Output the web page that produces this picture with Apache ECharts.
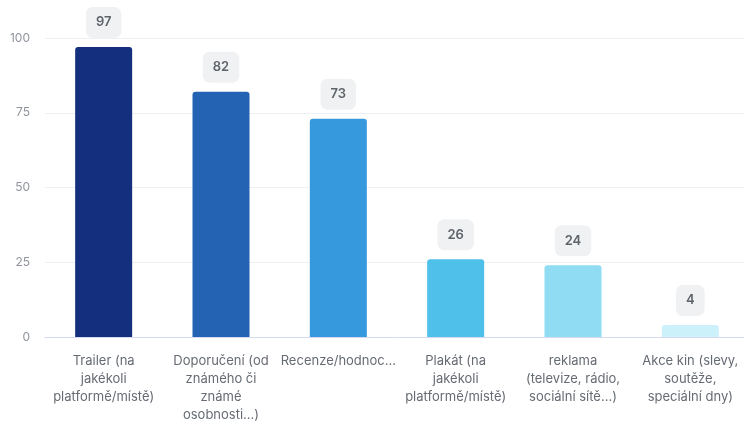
<!DOCTYPE html>
<html>
<head>
<meta charset="utf-8">
<script src="https://cdn.jsdelivr.net/npm/echarts@6/dist/echarts.min.js"></script>
<style>
html,body{margin:0;padding:0;background:#fff;}
#chart{width:744px;height:421px;}
</style>
</head>
<body>
<div id="chart"></div>
<script>
var categories = [
  "Trailer (na\njakékoli\nplatformě/místě)",
  "Doporučení (od\nznámého či\nznámé\nosobnosti...)",
  "Recenze/hodnoc...",
  "Plakát (na\njakékoli\nplatformě/místě)",
  "reklama\n(televize, rádio,\nsociální sítě...)",
  "Akce kin (slevy,\nsoutěže,\nspeciální dny)"
];
var values = [97, 82, 73, 26, 24, 4];
var barColors = ["#132f7d", "#2463b4", "#3699dd", "#4ec0ea", "#90dcf3", "#cdf1fa"];
var yTicks = [0, 25, 50, 75, 100];

var chart = echarts.init(document.getElementById('chart'));
chart.setOption({
  animation: false,
  grid: { left: 45, width: 704, top: 38, height: 299, containLabel: false, outerBoundsMode: 'none' },
  xAxis: {
    type: 'category',
    data: categories,
    axisLine: { lineStyle: { color: '#d6daf0', width: 1 } },
    axisTick: { show: false },
    axisLabel: {
      interval: 0,
      margin: 15,
      color: '#666b73',
      fontFamily: 'Inter',
      fontSize: 13,
      lineHeight: 18
    }
  },
  yAxis: {
    type: 'value',
    min: yTicks[0],
    max: yTicks[yTicks.length - 1],
    interval: 25,
    axisLine: { show: false },
    axisTick: { show: false },
    splitLine: { lineStyle: { color: '#eef0f3', width: 1 } },
    axisLabel: {
      margin: 15,
      color: '#8f949c',
      fontFamily: 'Inter',
      fontSize: 12
    }
  },
  series: [{
    type: 'bar',
    barWidth: 57,
    data: values.map(function (v, i) {
      return { value: v, itemStyle: { color: barColors[i] } };
    }),
    itemStyle: { borderRadius: [3, 3, 0, 0] },
    label: {
      show: true,
      position: 'top',
      distance: 9,
      color: '#5f646b',
      fontFamily: 'Inter',
      fontWeight: 600,
      fontSize: 13,
      backgroundColor: '#f0f1f2',
      borderRadius: 7,
      padding: [9, 10, 9, 10]
    }
  }]
});
</script>
</body>
</html>
